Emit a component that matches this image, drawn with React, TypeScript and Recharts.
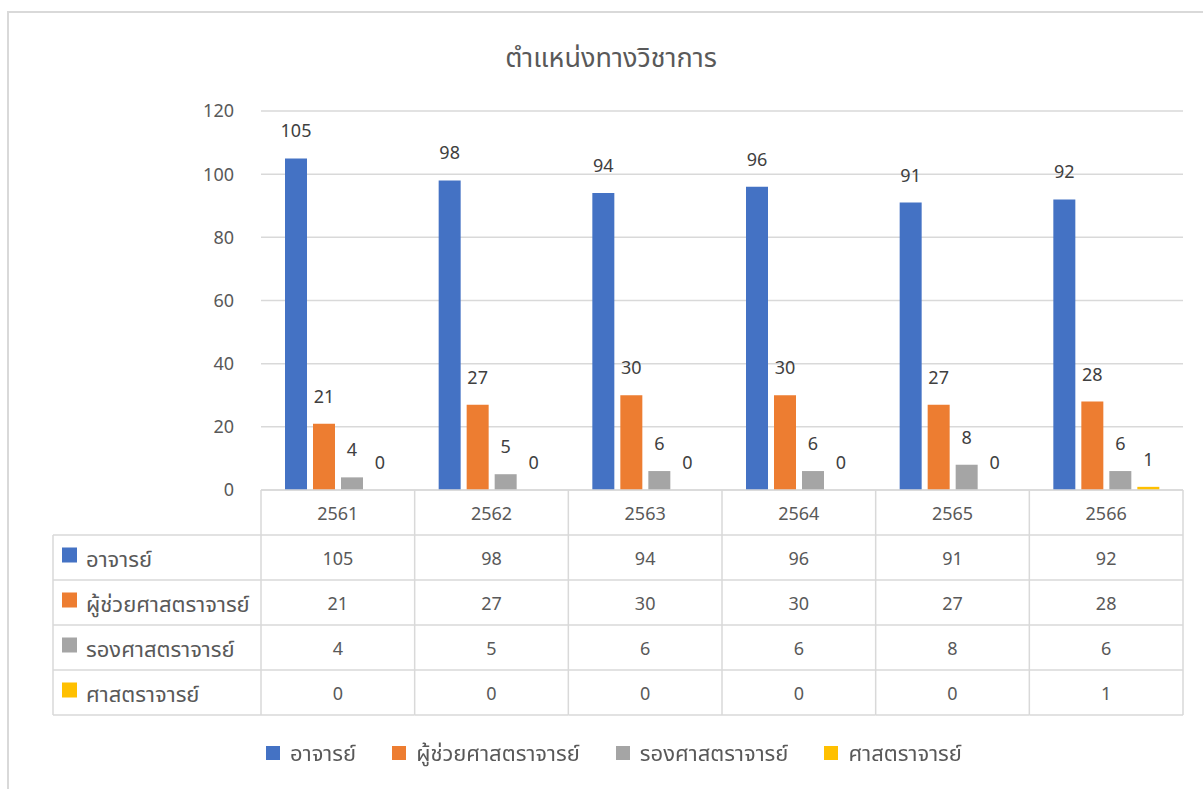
import React from 'react';
import { BarChart, Bar, XAxis, YAxis, CartesianGrid, LabelList } from 'recharts';

const years = ['2561', '2562', '2563', '2564', '2565', '2566'];
const lecturer = [105, 98, 94, 96, 91, 92];
const asstProf = [21, 27, 30, 30, 27, 28];
const assocProf = [4, 5, 6, 6, 8, 6];
const professor = [0, 0, 0, 0, 0, 1];
const yTicks = [0, 20, 40, 60, 80, 100, 120];

const seriesNames = ['อาจารย์', 'ผู้ช่วยศาสตราจารย์', 'รองศาสตราจารย์', 'ศาสตราจารย์'];
const seriesKeys = ['lecturer', 'asstProf', 'assocProf', 'professor'];
const seriesColors = ['#4472C4', '#ED7D31', '#A5A5A5', '#FFC000'];
const seriesValues = [lecturer, asstProf, assocProf, professor];

const data = years.map((y, i) => ({
  year: y,
  lecturer: lecturer[i],
  asstProf: asstProf[i],
  assocProf: assocProf[i],
  professor: professor[i],
}));

const FONT = "'Noto Sans', 'Noto Sans Thai', sans-serif";
const GRID = '#D9D9D9';
const TEXT = '#595959';
const ROW_H = 45;
const LEFT_X = 53;
const THAI_SIZE = 22;
const NUM_SIZE = 18;

const TableTick = (props: any) => {
  const { x, y, payload, index, width } = props;
  const colW = width / years.length;
  const left = x - colW / 2;
  const right = x + colW / 2;
  const top = y;
  const els: any[] = [];
  els.push(<line key="vl" x1={left} x2={left} y1={top} y2={top + ROW_H * 5} stroke={GRID} strokeWidth={1.5} />);
  if (index === years.length - 1) {
    els.push(<line key="vr" x1={right} x2={right} y1={top} y2={top + ROW_H * 5} stroke={GRID} strokeWidth={1.5} />);
  }
  for (let r = 1; r <= 5; r++) {
    els.push(<line key={'h' + r} x1={left} x2={right} y1={top + ROW_H * r} y2={top + ROW_H * r} stroke={GRID} strokeWidth={1.5} />);
  }
  els.push(
    <text key="yr" x={x} y={top + ROW_H / 2} textAnchor="middle" dominantBaseline="central" fill={TEXT} fontSize={NUM_SIZE} fontFamily={FONT}>
      {payload.value}
    </text>
  );
  seriesValues.forEach((vals, s) => {
    els.push(
      <text key={'v' + s} x={x} y={top + ROW_H * (s + 1) + ROW_H / 2} textAnchor="middle" dominantBaseline="central" fill={TEXT} fontSize={NUM_SIZE} fontFamily={FONT}>
        {vals[index]}
      </text>
    );
  });
  if (index === 0) {
    els.push(<line key="lv" x1={LEFT_X} x2={LEFT_X} y1={top + ROW_H} y2={top + ROW_H * 5} stroke={GRID} strokeWidth={1.5} />);
    for (let r = 1; r <= 5; r++) {
      els.push(<line key={'lh' + r} x1={LEFT_X} x2={left} y1={top + ROW_H * r} y2={top + ROW_H * r} stroke={GRID} strokeWidth={1.5} />);
    }
    seriesNames.forEach((n, s) => {
      const cy = top + ROW_H * (s + 1) + ROW_H / 2;
      els.push(<rect key={'lr' + s} x={62} y={cy - 10} width={15} height={15} fill={seriesColors[s]} />);
      els.push(
        <text key={'lt' + s} x={86} y={cy} dominantBaseline="central" fill={TEXT} fontSize={THAI_SIZE} fontFamily={FONT}>
          {n}
        </text>
      );
    });
  }
  return <g>{els}</g>;
};

export default function App() {
  return (
    <div style={{ position: 'fixed', left: 0, top: 0, width: 1203, height: 789, background: '#fff', fontFamily: FONT }}>
      <div style={{ position: 'absolute', left: 7, top: 11, width: 1220, height: 800, borderTop: '2px solid #D9D9D9', borderLeft: '2px solid #D9D9D9' }} />
      <div style={{ position: 'absolute', left: 0, top: 39, width: 1222, textAlign: 'center', fontSize: 27, lineHeight: '36px', color: TEXT }}>
        ตำแหน่งทางวิชาการ
      </div>
      <div style={{ position: 'absolute', left: 0, top: 0 }}>
        <BarChart
          width={1203}
          height={789}
          data={data}
          margin={{ top: 111, right: 20, bottom: 74, left: 0 }}
          barGap={6}
          barSize={22}
        >
          <CartesianGrid vertical={false} stroke={GRID} strokeWidth={1.5} />
          <XAxis
            dataKey="year"
            height={225}
            axisLine={{ stroke: GRID, strokeWidth: 1.5 }}
            tickLine={false}
            tickSize={0}
            tickMargin={0}
            interval={0}
            tick={<TableTick />}
          />
          <YAxis
            width={261}
            domain={[0, 120]}
            ticks={yTicks}
            axisLine={false}
            tickLine={false}
            tickSize={0}
            tickMargin={27}
            tick={{ fill: TEXT, fontSize: NUM_SIZE, fontFamily: FONT }}
          />
          {seriesKeys.map((k, i) => (
            <Bar key={k} dataKey={k} name={seriesNames[i]} fill={seriesColors[i]} minPointSize={0.01} isAnimationActive={false}>
              <LabelList dataKey={k} position="top" offset={21} fill="#404040" fontSize={NUM_SIZE} fontFamily={FONT} />
            </Bar>
          ))}
        </BarChart>
      </div>
      <div style={{ position: 'absolute', left: 0, top: 737, width: 1228, display: 'flex', justifyContent: 'center', gap: 36, fontSize: THAI_SIZE, color: TEXT }}>
        {seriesNames.map((n, i) => (
          <div key={n} style={{ display: 'flex', alignItems: 'center' }}>
            <span style={{ display: 'inline-block', width: 14, height: 14, background: seriesColors[i], marginRight: 10, marginTop: -3 }} />
            <span>{n}</span>
          </div>
        ))}
      </div>
    </div>
  );
}
